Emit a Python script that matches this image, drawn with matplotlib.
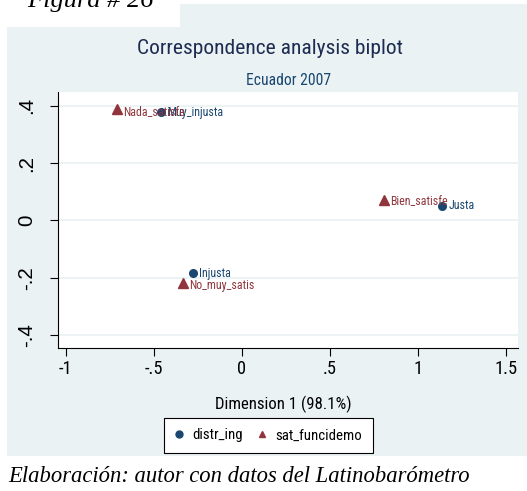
import matplotlib
matplotlib.use('Agg')
import matplotlib.pyplot as plt
from matplotlib import font_manager
from matplotlib.font_manager import FontProperties
from matplotlib.lines import Line2D
from matplotlib.patches import Rectangle

# points (dimension 1, dimension 2)
row_labels = ['Muy_injusta', 'Injusta', 'Justa']
row_x = [-0.46, -0.278, 1.136]
row_y = [0.377, -0.185, 0.052]

col_labels = ['Nada_satisfe', 'No_muy_satis', 'Bien_satisfe']
col_x = [-0.71, -0.335, 0.807]
col_y = [0.387, -0.22, 0.073]

x_ticks = [-1, -0.5, 0, 0.5, 1, 1.5]
x_ticklabels = ['-1', '-.5', '0', '.5', '1', '1.5']
y_ticks = [-0.4, -0.2, 0, 0.2, 0.4]
y_ticklabels = ['-.4', '-.2', '0', '.2', '.4']

series_names = ['distr_ing', 'sat_funcidemo']

W, H = 527, 491
bg = '#EAF2F3'
navy = '#1A476F'
maroon = '#90353B'

# stata output was squeezed sideways, so a narrow face is the closest fit
installed = {f.name for f in font_manager.fontManager.ttflist}
narrow = 'Liberation Sans'
for name in ['Liberation Sans Narrow', 'Arial Narrow', 'Roboto Condensed', 'Noto Sans Condensed',
             'Open Sans Condensed', 'DejaVu Sans Condensed']:
    if name in installed:
        narrow = name
        break

fig = plt.figure(figsize=(W / 100, H / 100), dpi=100, facecolor='white')
renderer = fig.canvas.get_renderer()


def fit(text, family, width_px, stretch=1.0):
    # font size whose rendered width matches what the picture shows
    w, _, _ = renderer.get_text_width_height_descent(text, FontProperties(family=family, size=10), False)
    return 10 * width_px / w * stretch


title_fs = fit('Correspondence analysis biplot', narrow, 257, 1.03)
sub_fs = fit('Ecuador 2007', narrow, 82, 1.03)
xlab_fs = fit('Dimension 1 (98.1%)', narrow, 131, 1.03)
leg_fs = fit('sat_funcidemo', narrow, 86, 1.0)
xtick_fs = fit('1.5', narrow, 22, 1.04)
ytick_fs = fit('-.4', 'Liberation Sans', 24)
pt_fs = fit('No_muy_satis', narrow, 66, 0.98)

# stata graph region
fig.patches.append(Rectangle((7 / W, 1 - 456 / H), 520 / W, 452 / H, transform=fig.transFigure,
                             facecolor=bg, edgecolor='none', zorder=-2))

ax = fig.add_axes([58 / W, 1 - 348 / H, 460 / W, 256 / H])
ax.set_facecolor('white')
ax.set_xlim(-1.045, 1.568)
ax.set_ylim(-0.445, 0.448)
for s in ['top', 'right']:
    ax.spines[s].set_visible(False)
for s in ['left', 'bottom']:
    ax.spines[s].set_linewidth(0.8)
    ax.spines[s].set_color('black')

ax.set_axisbelow(True)
ax.yaxis.grid(True, color=bg, linewidth=1.3)
ax.xaxis.grid(False)

ax.set_xticks(x_ticks, x_ticklabels, fontfamily=narrow, fontsize=xtick_fs)
ax.set_yticks(y_ticks, y_ticklabels, rotation=90, va='center', fontfamily='Liberation Sans', fontsize=ytick_fs)
ax.tick_params(axis='x', length=6, width=0.8, pad=3)
ax.tick_params(axis='y', length=6, width=0.8, pad=10)

ax.plot(row_x, row_y, linestyle='none', marker='o', markersize=5.5, color=navy)
ax.plot(col_x, col_y, linestyle='none', marker='^', markersize=6.5, color=maroon)

for lab, x, y in zip(row_labels, row_x, row_y):
    ax.annotate(lab, (x, y), xytext=(4.5, -0.3), textcoords='offset points', ha='left', va='center',
                fontsize=pt_fs, fontfamily=narrow, color=navy)
for lab, x, y in zip(col_labels, col_x, col_y):
    ax.annotate(lab, (x, y), xytext=(4.5, -1.8), textcoords='offset points', ha='left', va='center',
                fontsize=pt_fs, fontfamily=narrow, color=maroon)

ax.set_xlabel('Dimension 1 (98.1%)', fontsize=xlab_fs, fontfamily=narrow, color='black')
ax.xaxis.set_label_coords((283 - 58) / 460, (348 - 409) / 256)
ax.xaxis.label.set_va('baseline')

fig.text(270 / W, 1 - 54 / H, 'Correspondence analysis biplot', ha='center', va='baseline',
         fontsize=title_fs, fontfamily=narrow, color='#1E2C52')
fig.text(288 / W, 1 - 85 / H, 'Ecuador 2007', ha='center', va='baseline',
         fontsize=sub_fs, fontfamily=narrow, color=navy)

handles = [Line2D([], [], linestyle='none', marker='o', markersize=5, color=navy),
           Line2D([], [], linestyle='none', marker='^', markersize=5, color=maroon)]
leg = fig.legend(handles, series_names, loc='upper center', bbox_to_anchor=(268.5 / W, 1 - 418 / H),
                 ncol=2, frameon=True, fancybox=False, edgecolor='black', facecolor='white', framealpha=1,
                 borderpad=0.7, borderaxespad=0, handlelength=0.6, handletextpad=0.6, columnspacing=1.0,
                 prop={'family': narrow, 'size': leg_fs})
leg.get_frame().set_linewidth(0.8)

# document text around the pasted graph
fig.patches.append(Rectangle((0, 0), 1, 35 / H, transform=fig.transFigure,
                             facecolor='white', edgecolor='none', zorder=10))
fig.text(8 / W, 1 - 482.5 / H, 'Elaboración: autor con datos del Latinobarómetro', ha='left', va='baseline',
         fontsize=16.3, fontfamily='Liberation Serif', style='italic', color='black', zorder=11)
fig.patches.append(Rectangle((0, 1 - 27 / H), 180 / W, 27 / H, transform=fig.transFigure,
                             facecolor='white', edgecolor='none', zorder=10))
fig.text(27 / W, 1 - 7.5 / H, 'Figura # 26', ha='left', va='baseline',
         fontsize=19, fontfamily='Liberation Serif', style='italic', color='black', zorder=11)

fig.savefig('out.png', dpi=100)
